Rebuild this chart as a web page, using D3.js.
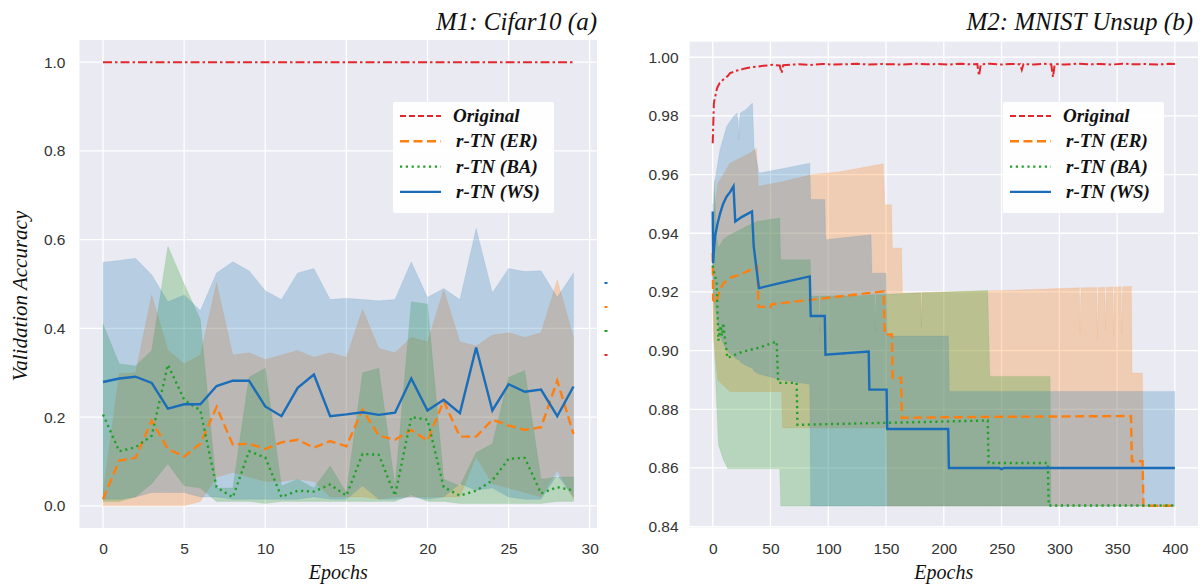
<!DOCTYPE html>
<html><head><meta charset="utf-8">
<script src="https://cdn.jsdelivr.net/npm/d3@7"></script>
<style>
html,body{margin:0;padding:0;background:#fff;}
svg{display:block;}
.tick text{font-family:"Liberation Sans",Arial,sans-serif;font-size:15.5px;fill:#333;}
</style></head>
<body>
<svg id="chart" width="1200" height="585"></svg>
<script>
// ---------------- DATA ----------------
// Panel (a) M1: Cifar10, epochs 0..29
const epochsA = [0,1,2,3,4,5,6,7,8,9,10,11,12,13,14,15,16,17,18,19,20,21,22,23,24,25,26,27,28,29];
const origA = [1,1,1,1,1,1,1,1,1,1,1,1,1,1,1,1,1,1,1,1,1,1,1,1,1,1,1,1,1,1];
const erA   = [0.015,0.102,0.108,0.192,0.128,0.111,0.140,0.223,0.138,0.140,0.128,0.143,0.149,0.131,0.146,0.134,0.217,0.158,0.149,0.171,0.147,0.236,0.156,0.156,0.194,0.181,0.171,0.177,0.282,0.162];
const erALo = [0.000,0.000,0.000,0.000,0.000,0.000,0.010,0.065,0.075,0.065,0.055,0.055,0.060,0.055,0.020,0.020,0.020,0.015,0.020,0.020,0.020,0.020,0.020,0.110,0.050,0.040,0.030,0.020,0.080,0.015];
const erAHi = [0.030,0.298,0.300,0.475,0.351,0.320,0.340,0.503,0.340,0.345,0.330,0.340,0.350,0.335,0.345,0.335,0.443,0.355,0.345,0.380,0.370,0.487,0.370,0.360,0.385,0.390,0.380,0.390,0.510,0.380];
const baA   = [0.206,0.123,0.132,0.158,0.318,0.239,0.215,0.042,0.019,0.123,0.109,0.020,0.034,0.032,0.048,0.023,0.117,0.115,0.023,0.200,0.194,0.042,0.023,0.034,0.057,0.106,0.108,0.028,0.042,0.035];
const baALo = [0.010,0.010,0.020,0.050,0.095,0.045,0.040,0.010,0.010,0.010,0.005,0.010,0.010,0.010,0.010,0.010,0.010,0.010,0.010,0.025,0.010,0.010,0.005,0.005,0.005,0.005,0.005,0.005,0.010,0.010];
const baAHi = [0.410,0.320,0.315,0.350,0.585,0.500,0.420,0.040,0.040,0.290,0.310,0.045,0.060,0.040,0.090,0.030,0.300,0.310,0.045,0.460,0.455,0.060,0.045,0.120,0.140,0.290,0.305,0.060,0.065,0.065];
const wsA   = [0.279,0.287,0.291,0.277,0.219,0.229,0.229,0.270,0.282,0.282,0.224,0.202,0.266,0.296,0.202,0.206,0.211,0.205,0.210,0.287,0.215,0.239,0.209,0.357,0.215,0.274,0.257,0.262,0.202,0.269];
const wsALo = [0.015,0.015,0.020,0.030,0.030,0.030,0.020,0.020,0.015,0.015,0.015,0.015,0.015,0.020,0.015,0.015,0.045,0.015,0.015,0.020,0.015,0.020,0.050,0.035,0.040,0.020,0.015,0.015,0.070,0.020];
const wsAHi = [0.549,0.553,0.558,0.521,0.460,0.475,0.440,0.525,0.550,0.530,0.485,0.465,0.525,0.535,0.465,0.468,0.465,0.462,0.465,0.550,0.470,0.490,0.465,0.625,0.480,0.535,0.528,0.530,0.470,0.525];

// Panel (b) M2: MNIST Unsup, epochs 0..400
const origBEp = [0,0.5,1,2,3,4,6,8,10.7,13,15,18,20,23.6,28,32,38,44,52,58,59.6,61,68,75,85,95,105,115,125,135,145,155,165,175,185,195,205,215,222,229,230.5,232,240,250,258,266,267.5,269,278,286,293,294.5,296,305,315,325,335,345,355,365,375,385,395,400];
const origBVal = [0.9707,0.9775,0.9844,0.9862,0.9883,0.9897,0.9912,0.9920,0.9929,0.9936,0.9946,0.9950,0.9954,0.9957,0.9962,0.9965,0.9968,0.9971,0.9974,0.9972,0.9946,0.9973,0.9975,0.9976,0.9974,0.9977,0.9975,0.9976,0.9978,0.9975,0.9977,0.9976,0.9975,0.9978,0.9976,0.9977,0.9975,0.9978,0.9976,0.9977,0.9937,0.9976,0.9978,0.9975,0.9977,0.9976,0.9957,0.9977,0.9975,0.9978,0.9976,0.9932,0.9977,0.9975,0.9978,0.9976,0.9977,0.9975,0.9978,0.9976,0.9977,0.9975,0.9978,0.9977];

const erBEp  = [0,0.4,3,6,9.5,16,24,38.6,39.7,50,51,100,148,148.8,155,155.8,163,163.8,240,362,362.8,372,372.8,400];
const erBVal = [0.9333,0.9173,0.9162,0.9205,0.9230,0.9250,0.9259,0.9287,0.9150,0.9148,0.9158,0.9180,0.9202,0.9055,0.9055,0.8907,0.8907,0.8771,0.8774,0.8777,0.8623,0.8623,0.8471,0.8471];
const erBandEp = [0,0.5,4.3,15,32,38,39.4,59.6,60.3,67,86,110,147.7,149,150.5,151.2,154.8,155.5,163.5,164.2,250,317.4,318,318.6,332.4,333,333.6,339.4,340,340.6,346.4,347,347.6,353.4,354,354.6,362.4,363,372,372.8,400];
const erBandHi = [0.935,0.945,0.957,0.9639,0.9673,0.969,0.956,0.9575,0.9576,0.9582,0.960,0.961,0.9637,0.9497,0.9497,0.9497,0.9497,0.935,0.935,0.9196,0.9205,0.9214,0.906,0.9214,0.9215,0.904,0.9215,0.9216,0.907,0.9216,0.9217,0.905,0.9217,0.9218,0.906,0.9218,0.9219,0.8924,0.8924,0.847,0.847];
const erBandLo = [0.915,0.905,0.890,0.886,0.886,0.886,0.886,0.886,0.8736,0.8736,0.8736,0.8736,0.8736,0.8736,0.8736,0.847,0.847,0.847,0.847,0.847,0.847,0.847,0.847,0.847,0.847,0.847,0.847,0.847,0.847,0.847,0.847,0.847,0.847,0.847,0.847,0.847,0.847,0.847,0.847,0.847,0.847];

const baBEp  = [0,1.5,3.4,4.9,7,8,9.2,10,12.7,25,40,55.3,56.7,72.6,73.4,209,238,238.8,290,290.8,400];
const baBVal = [0.929,0.926,0.9235,0.9034,0.9085,0.905,0.9094,0.906,0.8975,0.8995,0.901,0.9031,0.889,0.889,0.8747,0.8759,0.8762,0.8617,0.8617,0.8472,0.8472];
const baBandEp = [0,1.2,1.5,2.5,3,4.9,9,13,23.6,38,58,58.8,84.5,85.3,92,92.6,93.2,127,140,140.6,141.2,180,180.6,181.2,238,239.9,292,292.8,400];
const baBandHi = [0.932,0.950,0.958,0.945,0.940,0.935,0.9378,0.939,0.9412,0.944,0.9452,0.931,0.931,0.9185,0.9186,0.906,0.9186,0.9187,0.9190,0.907,0.9190,0.9197,0.908,0.9197,0.9205,0.8912,0.8912,0.847,0.847];
const baBandLo = [0.925,0.9037,0.900,0.890,0.885,0.868,0.863,0.8597,0.8597,0.8597,0.8597,0.847,0.847,0.847,0.847,0.847,0.847,0.847,0.847,0.847,0.847,0.847,0.847,0.847,0.847,0.847,0.847,0.847,0.847];

const wsBEp  = [0,0.4,1,2,4,6.5,9,12,15,18,19.5,25,34,35.5,40,60,84,84.8,97,97.6,135,135.6,150.5,151,203.8,204.4,248,250,252,400];
const wsBVal = [0.9474,0.9298,0.934,0.9389,0.943,0.9469,0.950,0.9525,0.954,0.956,0.944,0.9455,0.9474,0.9355,0.9213,0.9232,0.9253,0.9118,0.9118,0.8986,0.8997,0.8867,0.8867,0.8733,0.8733,0.8600,0.8600,0.8596,0.8600,0.8600];
const wsBandEp = [0,0.5,2,6.3,12,18,21,22,22.5,23,24,28.6,34.4,35.8,40,60,84,84.8,97,97.8,137,137.8,150,150.8,204,204.8,400];
const wsBandHi = [0.950,0.950,0.958,0.9685,0.9764,0.9798,0.981,0.978,0.972,0.978,0.981,0.9821,0.9844,0.9696,0.9605,0.962,0.9639,0.9515,0.9515,0.9378,0.9395,0.9264,0.9264,0.905,0.905,0.8861,0.8861];
const wsBandLo = [0.925,0.920,0.915,0.905,0.900,0.898,0.897,0.897,0.897,0.897,0.896,0.895,0.894,0.893,0.892,0.890,0.8885,0.847,0.847,0.847,0.847,0.847,0.847,0.847,0.847,0.847,0.847];

const seriesNames = ["Original","r-TN (ER)","r-TN (BA)","r-TN (WS)"];
const xTicksA = [0,5,10,15,20,25,30];
const yTicksA = [0.0,0.2,0.4,0.6,0.8,1.0];
const xTicksB = [0,50,100,150,200,250,300,350,400];
const yTicksB = [0.84,0.86,0.88,0.90,0.92,0.94,0.96,0.98,1.00];

// ---------------- STYLE ----------------
const colors = {orig:"#e3262b", er:"#ff7f0e", ba:"#22a02a", ws:"#1a6db8"};
const bandColors = {er:"#ff7f0e", ba:"#2ca02c", ws:"#1f77b4"};
const bandAlpha = {er:0.27, ba:0.27, ws:0.25};
const dashes = {orig:"9,3,2.5,3", er:"9,4.5", ba:"2.2,3.6", ws:null};
const serif = "'Liberation Serif','DejaVu Serif',serif";

const svg = d3.select("#chart");

function panel(cfg){
  const g = svg.append("g");
  const x = d3.scaleLinear().domain(cfg.xDomain).range(cfg.xRange);
  const y = d3.scaleLinear().domain(cfg.yDomain).range(cfg.yRange);
  const [x0,x1] = cfg.xRange, [y0,y1] = cfg.yRange;
  g.append("rect").attr("x",x0).attr("y",y1).attr("width",x1-x0).attr("height",y0-y1).attr("fill","#eaeaf2");
  const clipId = "clip"+cfg.id;
  svg.append("clipPath").attr("id",clipId).append("rect").attr("x",x0).attr("y",y1).attr("width",x1-x0).attr("height",y0-y1);
  // grid
  g.append("g").selectAll("line").data(cfg.xTicks).join("line")
    .attr("x1",d=>x(d)).attr("x2",d=>x(d)).attr("y1",y1).attr("y2",y0)
    .attr("stroke","#fff").attr("stroke-width",1.3);
  g.append("g").selectAll("line").data(cfg.yTicks).join("line")
    .attr("x1",x0).attr("x2",x1).attr("y1",d=>y(d)).attr("y2",d=>y(d))
    .attr("stroke","#fff").attr("stroke-width",1.3);
  // axes
  const ax = g.append("g").attr("transform",`translate(0,${y0})`)
    .call(d3.axisBottom(x).tickValues(cfg.xTicks).tickSize(0).tickPadding(cfg.xPad).tickFormat(d3.format("d")));
  ax.select(".domain").remove();
  const ay = g.append("g").attr("transform",`translate(${x0},0)`)
    .call(d3.axisLeft(y).tickValues(cfg.yTicks).tickSize(0).tickPadding(cfg.yPad).tickFormat(d3.format(cfg.yFmt)));
  ay.select(".domain").remove();
  const plot = g.append("g").attr("clip-path",`url(#${clipId})`);
  // bands and lines
  cfg.series.forEach(s=>{
    if(s.band){
      const area = d3.area().x((d,i)=>x(s.bandEp[i])).y0((d,i)=>y(s.bandLo[i])).y1((d,i)=>y(s.bandHi[i]));
      plot.append("path").attr("d",area(s.bandEp)).attr("fill",bandColors[s.key]).attr("fill-opacity",bandAlpha[s.key])
        .attr("stroke",bandColors[s.key]).attr("stroke-opacity",0.12).attr("stroke-width",0.8);
    }
  });
  cfg.series.forEach(s=>{
    const line = d3.line().x((d,i)=>x(s.ep[i])).y((d,i)=>y(s.val[i]));
    const p = plot.append("path").attr("d",line(s.ep)).attr("fill","none")
      .attr("stroke",colors[s.key]).attr("stroke-width",s.key==="orig"?2:2.4);
    if(dashes[s.key]) p.attr("stroke-dasharray",dashes[s.key]);
  });
  // title
  g.append("text").attr("x",cfg.titleX).attr("y",30).attr("text-anchor","end")
    .attr("font-family",serif).attr("font-style","italic").attr("font-size",25).attr("fill","#111").text(cfg.title);
  // x label
  g.append("text").attr("x",(x0+x1)/2).attr("y",579).attr("text-anchor","middle")
    .attr("font-family",serif).attr("font-style","italic").attr("font-size",20).attr("fill","#111").text("Epochs");
  // legend
  const lg = g.append("g").attr("transform",`translate(${cfg.legX},102)`);
  lg.append("rect").attr("width",161).attr("height",111).attr("rx",2).attr("fill","#fff").attr("fill-opacity",0.95);
  const keys = ["orig","er","ba","ws"];
  keys.forEach((k,i)=>{
    const yy = 14 + i*25.3;
    const l = lg.append("line").attr("x1",7).attr("x2",48).attr("y1",yy).attr("y2",yy)
      .attr("stroke",colors[k]).attr("stroke-width",k==="orig"?2:2.4);
    if(dashes[k]) l.attr("stroke-dasharray",k==="orig"?"6,3,6,3":dashes[k]);
    lg.append("text").attr("x",k==="orig"?60:63).attr("y",yy+6).attr("font-family",serif)
      .attr("font-style","italic").attr("font-weight","bold").attr("font-size",19).attr("fill","#111")
      .text(seriesNames[i]);
  });
  return {g,x,y};
}

panel({
  id:"a", xDomain:[-1.45,30.45], xRange:[79.5,597], yDomain:[-0.05,1.05], yRange:[528,40],
  xTicks:xTicksA, yTicks:yTicksA, yFmt:".1f", xPad:15, yPad:14,
  title:"M1: Cifar10 (a)", titleX:597, legX:393,
  series:[
    {key:"orig", ep:epochsA, val:origA},
    {key:"er", ep:epochsA, val:erA, band:true, bandEp:epochsA, bandLo:erALo, bandHi:erAHi},
    {key:"ba", ep:epochsA, val:baA, band:true, bandEp:epochsA, bandLo:baALo, bandHi:baAHi},
    {key:"ws", ep:epochsA, val:wsA, band:true, bandEp:epochsA, bandLo:wsALo, bandHi:wsAHi}
  ]
});
panel({
  id:"b", xDomain:[-20,420], xRange:[689.6,1198], yDomain:[0.8397,1.0053], yRange:[527.5,41.7],
  xTicks:xTicksB, yTicks:yTicksB, yFmt:".2f", xPad:15, yPad:11,
  title:"M2: MNIST Unsup (b)", titleX:1193, legX:1003,
  series:[
    {key:"orig", ep:origBEp, val:origBVal},
    {key:"er", ep:erBEp, val:erBVal, band:true, bandEp:erBandEp, bandLo:erBandLo, bandHi:erBandHi},
    {key:"ba", ep:baBEp, val:baBVal, band:true, bandEp:baBandEp, bandLo:baBandLo, bandHi:baBandHi},
    {key:"ws", ep:wsBEp, val:wsBVal, band:true, bandEp:wsBandEp, bandLo:wsBandLo, bandHi:wsBandHi}
  ]
});

// y label of panel (a)
svg.append("text").attr("transform","translate(27,296) rotate(-90)").attr("text-anchor","middle")
  .attr("font-family",serif).attr("font-style","italic").attr("font-size",21).attr("fill","#111")
  .text("Validation Accuracy");

// clipped legend remnants to the right of panel (a)
const stubKeys = ["ws","er","ba","orig"];
svg.append("g").selectAll("line").data(stubKeys).join("line")
  .attr("x1",604.5).attr("x2",607.5).attr("y1",(d,i)=>283+i*24).attr("y2",(d,i)=>283+i*24)
  .attr("stroke",d=>colors[d]).attr("stroke-width",2);
</script>
</body></html>
